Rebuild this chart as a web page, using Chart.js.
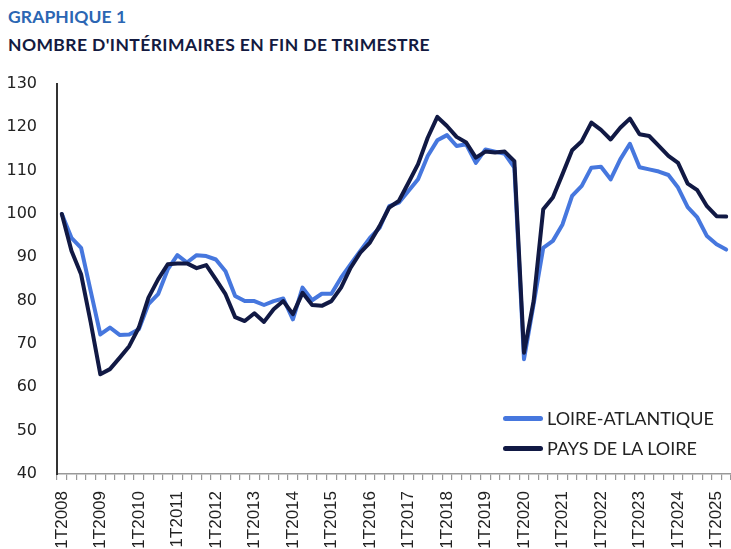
<!DOCTYPE html>
<html lang="fr">
<head>
<meta charset="utf-8">
<script src="https://cdn.jsdelivr.net/npm/chart.js@4.4.1/dist/chart.umd.min.js"></script>
<style>
  html, body { margin: 0; padding: 0; background: #fff; }
  .page { position: relative; width: 731px; height: 549px; overflow: hidden; font-family: "Lato", sans-serif; }
  .kicker { position: absolute; left: 8px; top: 6px; font-size: 17.5px; font-weight: 700; color: #2b66b3; letter-spacing: 0.1px; }
  .title { position: absolute; left: 8px; top: 34px; font-size: 17.5px; font-weight: 700; color: #131a40; letter-spacing: 0.4px; }
  .box { position: absolute; left: 0; top: 62px; width: 731px; height: 488px; }
  .legend { position: absolute; left: 503px; top: 403px; font-size: 18px; color: #222; }
  .legend div { display: flex; align-items: center; height: 30px; }
  .legend span.swatch { display: inline-block; width: 40px; height: 5px; border-radius: 3px; margin-right: 4px; }
</style>
</head>
<body>
<div class="page">
  <div class="kicker">GRAPHIQUE 1</div>
  <div class="title">NOMBRE D'INTÉRIMAIRES EN FIN DE TRIMESTRE</div>
  <div class="box"><canvas id="chart"></canvas></div>
  <div class="legend">
    <div><span class="swatch" style="background:#4677de"></span>LOIRE-ATLANTIQUE</div>
    <div><span class="swatch" style="background:#111944"></span>PAYS DE LA LOIRE</div>
  </div>
</div>
<script>
// years shown on the axis (one label per first quarter), last year partial
const years = [2008, 2009, 2010, 2011, 2012, 2013, 2014, 2015, 2016,
  2017, 2018, 2019, 2020, 2021, 2022, 2023, 2024, 2025];
const quartersInLastYear = 2;

// indice base 100 au 1T2008
const loireAtlantique = [
  100, 94.5, 92.2, 82.2, 72.2, 73.8, 72.1, 72.2,
  73.4, 79.2, 81.5, 87.2, 90.5, 88.8, 90.5, 90.3,
  89.5, 86.8, 81.1, 79.9, 79.9, 79.0, 79.9, 80.5,
  75.7, 83.0, 80.1, 81.6, 81.6, 85.3, 88.4, 91.5,
  94.5, 96.8, 101.8, 102.6, 105.3, 108.0, 113.4, 117.0,
  118.2, 115.7, 116.1, 111.8, 114.9, 114.4, 113.9, 110.7,
  66.5, 79.2, 92.2, 93.8, 97.6, 104.2, 106.5, 110.7,
  110.9, 108.0, 112.6, 116.2, 110.8, 110.3, 109.8, 109.0,
  106.1, 101.6, 99.2, 94.9, 93.0, 91.8
];
const paysDeLaLoire = [
  100, 91.5, 86.1, 75.0, 63.0, 64.2, 66.8, 69.5,
  73.8, 80.7, 84.9, 88.4, 88.6, 88.6, 87.5, 88.2,
  84.9, 81.5, 76.2, 75.3, 77.1, 75.1, 78.0, 79.9,
  76.9, 81.8, 79.0, 78.8, 79.9, 83.0, 87.6, 91.1,
  93.4, 97.2, 101.5, 103.0, 107.2, 111.5, 117.6, 122.4,
  120.3, 117.8, 116.5, 113.0, 114.4, 114.2, 114.4, 112.2,
  68.0, 79.9, 101.1, 103.8, 109.2, 114.7, 116.8, 121.1,
  119.4, 117.2, 119.9, 122.0, 118.4, 118.0, 115.7, 113.4,
  111.8, 107.0, 105.5, 101.8, 99.5, 99.4
];

const labels = [];
years.forEach((y, i) => {
  const n = i === years.length - 1 ? quartersInLastYear : 4;
  for (let q = 1; q <= n; q++) labels.push(q + "T" + y);
});

new Chart(document.getElementById("chart"), {
  type: "line",
  data: {
    labels: labels,
    datasets: [
      { label: "PAYS DE LA LOIRE", data: paysDeLaLoire, borderColor: "#111944",
        borderWidth: 4, order: 1 },
      { label: "LOIRE-ATLANTIQUE", data: loireAtlantique, borderColor: "#4677de",
        borderWidth: 4, order: 2 },
    ],
  },
  options: {
    responsive: true,
    maintainAspectRatio: false,
    animation: false,
    layout: { padding: { left: 7, top: 22, right: 0, bottom: 0 } },
    elements: {
      point: { radius: 0 },
      line: { tension: 0, borderJoinStyle: "round", borderCapStyle: "round" },
    },
    plugins: { legend: { display: false }, tooltip: { enabled: false } },
    scales: {
      x: {
        offset: true,
        // fixed axis height, no side padding for the rotated labels
        afterFit: (s) => { s.paddingLeft = 0; s.paddingRight = 0; s.height = 76; },
        grid: { offset: true, drawOnChartArea: false, drawTicks: true,
          tickLength: 6, color: "#999", lineWidth: 1.2 },
        border: { color: "#999", width: 1.5 },
        ticks: {
          autoSkip: false, maxRotation: 90, minRotation: 90, padding: 11,
          color: "#222", font: { family: "Liberation Sans", size: 17 },
          callback: (v, i) => (i % 4 === 0 ? labels[i] : ""),
        },
      },
      y: {
        min: 40, max: 130,
        afterFit: (s) => { s.paddingTop = 0; s.paddingBottom = 0; s.width = 50; },
        grid: { display: false, drawTicks: false },
        border: { color: "#333", width: 2 },
        ticks: { stepSize: 10, padding: 20, color: "#222",
          font: { family: "DejaVu Sans", size: 16 } },
      },
    },
  },
});
</script>
</body>
</html>
